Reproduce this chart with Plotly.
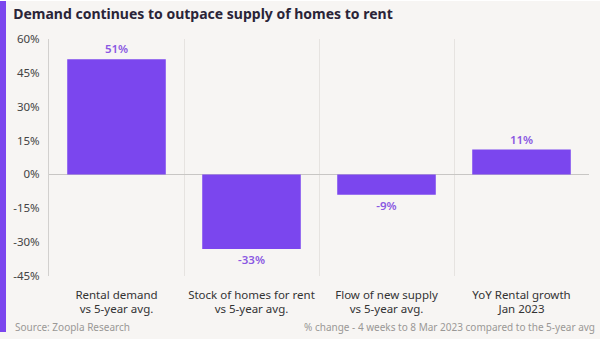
import plotly.graph_objects as go

categories = ["Rental demand<br>vs 5-year avg.", "Stock of homes for rent<br>vs 5-year avg.",
              "Flow of new supply<br>vs 5-year avg.", "YoY Rental growth<br>Jan 2023"]
values = [51, -33, -9, 11]
value_labels = ["51%", "-33%", "-9%", "11%"]
tick_vals = [60, 45, 30, 15, 0, -15, -30, -45]
tick_text = ["60%", "45%", "30%", "15%", "0%", "-15%", "-30%", "-45%"]

purple = "#7b46ee"
label_purple = "#8a58e2"
bg = "#f7f5f3"
font = "Noto Sans"

fig = go.Figure(go.Bar(
    x=categories, y=values, text=value_labels, textposition="outside",
    marker=dict(color=purple, line=dict(width=0)),
    textfont=dict(color=label_purple, size=11.5, family=font, weight=600),
    cliponaxis=False,
))

fig.update_layout(
    width=600, height=339,
    margin=dict(l=49, r=11, t=39, b=63),
    paper_bgcolor=bg, plot_bgcolor=bg,
    bargap=0.27,
    showlegend=False,
    font=dict(family=font, color="#333"),
    title=dict(text="<b>Demand continues to outpace supply of homes to rent</b>",
               x=0.022, xanchor="left", y=0.958, yanchor="middle",
               font=dict(size=14, color="#2a2438", family=font)),
    xaxis=dict(tickson="boundaries", showgrid=True, gridcolor="#e6e3e0", gridwidth=1,
               ticks="", tickangle=0, automargin=False, ticklabelstandoff=10,
               tickfont=dict(size=11.5, color="#333"), showline=False),
    yaxis=dict(range=[-45, 60], tickvals=tick_vals, ticktext=tick_text, automargin=False,
               showgrid=False, zeroline=True, zerolinecolor="#c8c6c4", zerolinewidth=1,
               showline=True, linecolor="#d2d0ce", linewidth=1, ticklabelstandoff=6,
               tickfont=dict(size=11.5, color="#444"), ticks="", ticklen=0),
    shapes=[dict(type="rect", xref="paper", yref="paper", x0=-49/540, x1=-43/540,
                 y0=-56/237, y1=1 + 39/237, fillcolor=purple, line=dict(width=0)),
            dict(type="line", xref="paper", yref="paper", x0=-49/540, x1=1 + 11/540,
                 y0=1 + 39/237, y1=1 + 39/237, line=dict(color="white", width=2))],
    annotations=[
        dict(text="Source: Zoopla Research", xref="paper", yref="paper",
             x=-36/540, y=-51/237, xanchor="left", yanchor="middle", showarrow=False,
             font=dict(size=10, color="#9a9896", family=font)),
        dict(text="% change - 4 weeks to 8 Mar 2023 compared to the 5-year avg",
             xref="paper", yref="paper", x=1 + 8/540, y=-51/237, xanchor="right",
             yanchor="middle", showarrow=False,
             font=dict(size=10, color="#9a9896", family=font)),
    ],
)

fig.write_html("out.html")
